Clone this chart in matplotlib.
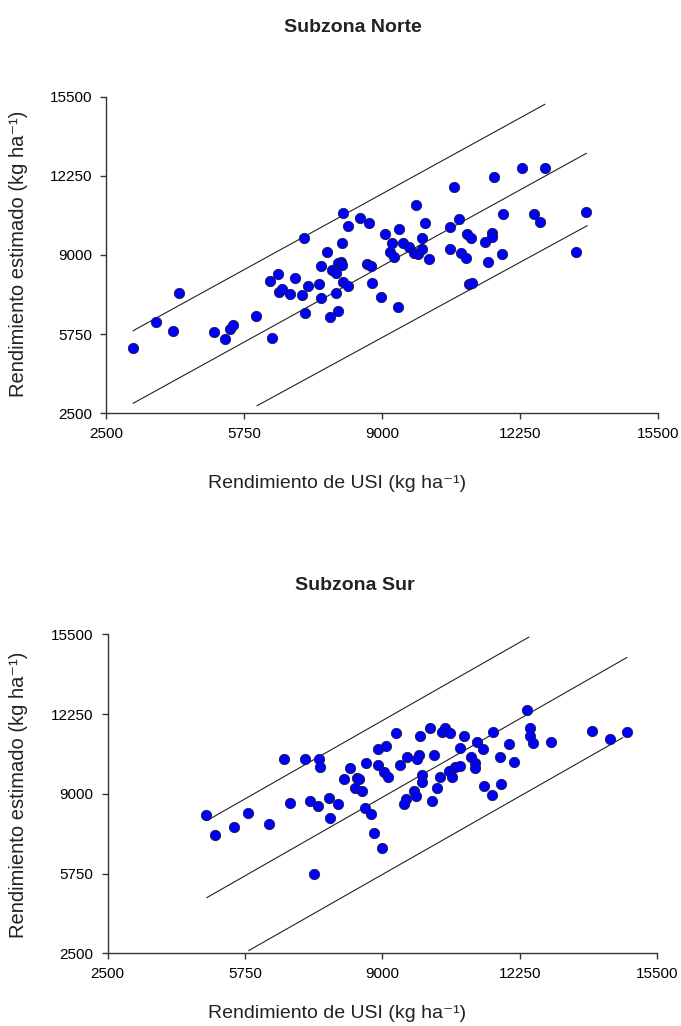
import matplotlib
matplotlib.use('Agg')
from matplotlib import pyplot as plt

plt.rcParams['font.family'] = ['Liberation Sans', 'DejaVu Sans']

# Subzona Norte: observed (USI) vs estimated yield
norte_x = [3127, 3666, 4220, 4079, 5041, 5300, 5410, 5487, 6036, 6412,
           6372, 6560, 6583, 6637, 6841, 6952, 7130, 7264, 7186, 7170,
           7522, 7576, 7576, 7702, 7773, 7834, 7914, 7914, 7968, 7975,
           8045, 8068, 8068, 8078, 8078, 8195, 8202, 8484, 8702, 8641,
           8735, 8758, 8984, 9063, 9188, 9376, 9399, 9242, 9282, 9500,
           9634, 9751, 9845, 9946, 9946, 9814, 10026, 10103, 10596, 10596,
           10706, 10830, 10861, 10978, 11002, 11105, 11058, 11135, 11433, 11588,
           11588, 11511, 11645, 11823, 11847, 12292, 12842, 12583, 12724, 13583,
           13803]
norte_y = [5168, 6259, 7425, 5890, 5849, 5537, 5947, 6124, 6506, 5578,
           7930, 8205, 7478, 7601, 7396, 8065, 7343, 7737, 6629, 9707,
           7806, 8558, 7244, 9107, 6464, 8381, 7425, 8270, 6698, 8656,
           8722, 8586, 9501, 7876, 10733, 7737, 10187, 10515, 10322, 8615,
           8558, 7835, 7261, 9859, 9107, 6875, 10064, 9477, 8927, 9501,
           9337, 9066, 9025, 9243, 9707, 11049, 10322, 8820, 10158, 9231,
           11775, 10474, 9066, 8886, 9859, 9707, 7794, 7860, 9543, 9912,
           9748, 8697, 12185, 9025, 10679, 12580, 12580, 10679, 10363, 9107,
           10774]
norte_line_x = [[3140, 12840], [3140, 13820], [6060, 13840]]
norte_line_y = [[5890, 15180], [2910, 13170], [2810, 10200]]

# Subzona Sur
sur_x = [4838, 5034, 5482, 5828, 6314, 6684, 6818, 7179, 7296, 7391,
         7469, 7492, 7516, 7744, 7761, 7940, 8098, 8232, 8357, 8388,
         8435, 8529, 8609, 8586, 8727, 8805, 9001, 8906, 9081, 8906,
         9041, 9142, 9331, 9411, 9590, 9866, 9811, 9882, 10118, 10219,
         9943, 9943, 9748, 9802, 9566, 9512, 10165, 10297, 10353, 10478,
         10415, 10589, 10573, 10636, 10714, 10832, 10825, 10926, 11084, 11186,
         11186, 11240, 11381, 11398, 11593, 11610, 11791, 11815, 12003, 12105,
         12418, 12482, 12498, 12553, 12993, 13967, 14384, 14775]
sur_y = [8140, 7324, 7638, 8234, 7773, 10411, 8641, 10436, 8723, 5734,
         8507, 10436, 10110, 8821, 8005, 8588, 9596, 10069, 9229, 9637,
         9596, 9119, 10248, 8413, 8181, 7418, 6782, 10831, 10966, 10179,
         9906, 9677, 11472, 10179, 10517, 10587, 10424, 11374, 11676, 10587,
         9771, 9473, 9119, 8915, 8780, 8588, 8723, 9229, 9677, 11676,
         11537, 11472, 9946, 9702, 10085, 10138, 10860, 11374, 10493, 10248,
         10044, 11105, 10831, 9322, 8955, 11512, 10493, 9404, 11035, 10289,
         12422, 11700, 11374, 11064, 11105, 11578, 11239, 11537]
sur_line_x = [[4850, 12460], [4850, 14780], [5840, 14680]]
sur_line_y = [[7910, 15390], [4770, 14560], [2610, 11290]]

ticks = [2500, 5750, 9000, 12250, 15500]
xlabel = 'Rendimiento de USI (kg ha⁻¹)'
ylabel = 'Rendimiento estimado (kg ha⁻¹)'

fig = plt.figure(figsize=(6.81, 10.26), dpi=100)
ax1 = fig.add_axes([0.1557, 0.5972, 0.810, 0.3087])
ax2 = fig.add_axes([0.1579, 0.0709, 0.8073, 0.3107])


def draw(ax, x, y, lx, ly):
    for xs, ys in zip(lx, ly):
        ax.plot(xs, ys, color='#222222', linewidth=0.8)
    ax.scatter(x, y, s=55, color='#0000ff', edgecolors='#1a1a40',
               linewidths=0.6, zorder=3)
    ax.set_xlim(2500, 15500)
    ax.set_ylim(2500, 15500)
    ax.set_xticks(ticks)
    ax.set_yticks(ticks)
    ax.spines['top'].set_visible(False)
    ax.spines['right'].set_visible(False)
    for s in ['left', 'bottom']:
        ax.spines[s].set_color('#333333')
        ax.spines[s].set_linewidth(1.0)
    ax.tick_params(direction='out', length=4, width=1, colors='#333333',
                   labelcolor='black', labelsize=11, pad=6)


draw(ax1, norte_x, norte_y, norte_line_x, norte_line_y)
draw(ax2, sur_x, sur_y, sur_line_x, sur_line_y)

# axis labels
for yc in [254 / 1026, 795 / 1026]:
    fig.text(19 / 681, 1 - yc, ylabel, rotation=90, ha='center', va='center',
             fontsize=14.5, color='#222222')
for yc in [483 / 1026, 1013 / 1026]:
    fig.text(337 / 681, 1 - yc, xlabel, ha='center', va='center',
             fontsize=14, color='#222222')

# panel titles
fig.text(353 / 681, 1 - 28 / 1026, 'Subzona Norte', ha='center', va='center',
         fontsize=14, fontweight='bold', color='#222222')
fig.text(355 / 681, 1 - 585 / 1026, 'Subzona Sur', ha='center', va='center',
         fontsize=14, fontweight='bold', color='#222222')

fig.savefig('out.png', dpi=100)
